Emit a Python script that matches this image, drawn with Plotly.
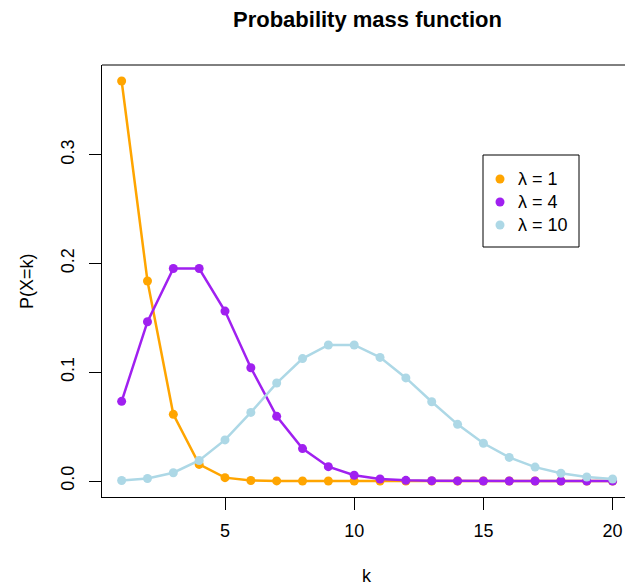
import plotly.graph_objects as go

k = list(range(1, 21))
p_lambda1 = [0.3679, 0.1839, 0.0613, 0.0153, 0.0031, 0.0005, 0.0001, 0.0, 0.0, 0.0,
             0.0, 0.0, 0.0, 0.0, 0.0, 0.0, 0.0, 0.0, 0.0, 0.0]
p_lambda4 = [0.0733, 0.1465, 0.1954, 0.1954, 0.1563, 0.1042, 0.0595, 0.0298, 0.0132, 0.0053,
             0.0019, 0.0006, 0.0002, 0.0001, 0.0, 0.0, 0.0, 0.0, 0.0, 0.0]
p_lambda10 = [0.0005, 0.0023, 0.0076, 0.0189, 0.0378, 0.0631, 0.0901, 0.1126, 0.1251, 0.1251,
              0.1137, 0.0948, 0.0729, 0.0521, 0.0347, 0.0217, 0.0128, 0.0071, 0.0037, 0.0019]
series_names = ["λ = 1", "λ = 4", "λ = 10"]
colors = ["#FFA500", "#A020F0", "#ADD8E6"]
x_ticks = [5, 10, 15, 20]
y_ticks = [0.0, 0.1, 0.2, 0.3]
y_tick_labels = ["0.0", "0.1", "0.2", "0.3"]

FONT = "Liberation Sans, Arial, sans-serif"
fig = go.Figure()
for vals, name, col in zip([p_lambda1, p_lambda4, p_lambda10], series_names, colors):
    fig.add_trace(go.Scatter(x=k, y=vals, mode="lines+markers", name=name,
                             line=dict(color=col, width=2.5),
                             marker=dict(color=col, size=9), showlegend=False))

W, H = 625, 586
L, R, T, B = 102, 0, 65, 89
pw, ph = W - L - R, H - T - B

def px(x):
    return (x - L) / pw

def py(y):
    return (H - B - y) / ph

shapes = [
    dict(type="line", xref="paper", yref="paper", x0=0, x1=1, y0=1, y1=1,
         line=dict(color="black", width=1)),
    dict(type="rect", xref="paper", yref="paper", x0=px(483), x1=px(579), y0=py(247), y1=py(155),
         line=dict(color="black", width=1), fillcolor="white"),
]
annotations = [
    dict(text="<b>Probability mass function</b>", xref="paper", yref="paper", x=px(367), y=py(19),
         showarrow=False, font=dict(size=22, color="black", family=FONT), xanchor="center", yanchor="middle"),
    dict(text="k", xref="paper", yref="paper", x=px(367), y=py(576),
         showarrow=False, font=dict(size=18, color="black", family=FONT), xanchor="center", yanchor="middle"),
    dict(text="P(X=k)", xref="paper", yref="paper", x=px(27), y=py(281), textangle=-90,
         showarrow=False, font=dict(size=18, color="black", family=FONT), xanchor="center", yanchor="middle"),
]
leg_y = [179, 202, 225]
for name, col, yy in zip(series_names, colors, leg_y):
    shapes.append(dict(type="circle", xref="paper", yref="paper",
                       x0=px(500 - 4.5), x1=px(500 + 4.5), y0=py(yy + 4.5), y1=py(yy - 4.5),
                       fillcolor=col, line=dict(color=col, width=0)))
    annotations.append(dict(text=name, xref="paper", yref="paper", x=px(516), y=py(yy),
                            showarrow=False, xanchor="left", yanchor="middle",
                            font=dict(size=18, color="black", family=FONT)))

fig.update_layout(
    width=W, height=H, margin=dict(l=L, r=R, t=T, b=B, pad=0),
    plot_bgcolor="white", paper_bgcolor="white",
    font=dict(family=FONT, size=18, color="black"),
    shapes=shapes, annotations=annotations,
    xaxis=dict(range=[0.24, 20.48], tickvals=x_ticks, ticks="outside", ticklen=12,
               tickcolor="black", showline=True, linecolor="black", linewidth=1,
               showgrid=False, zeroline=False, ticklabelstandoff=5),
    yaxis=dict(range=[-0.0147, 0.3826], tickvals=y_ticks, ticktext=y_tick_labels,
               ticks="outside", ticklen=12, tickcolor="black", tickangle=-90,
               showline=True, linecolor="black", linewidth=1,
               showgrid=False, zeroline=False, ticklabelstandoff=8),
)
fig.write_html("out.html", config={"displayModeBar": False},
               post_script="document.body.style.margin='0';document.body.style.overflow='hidden';")
